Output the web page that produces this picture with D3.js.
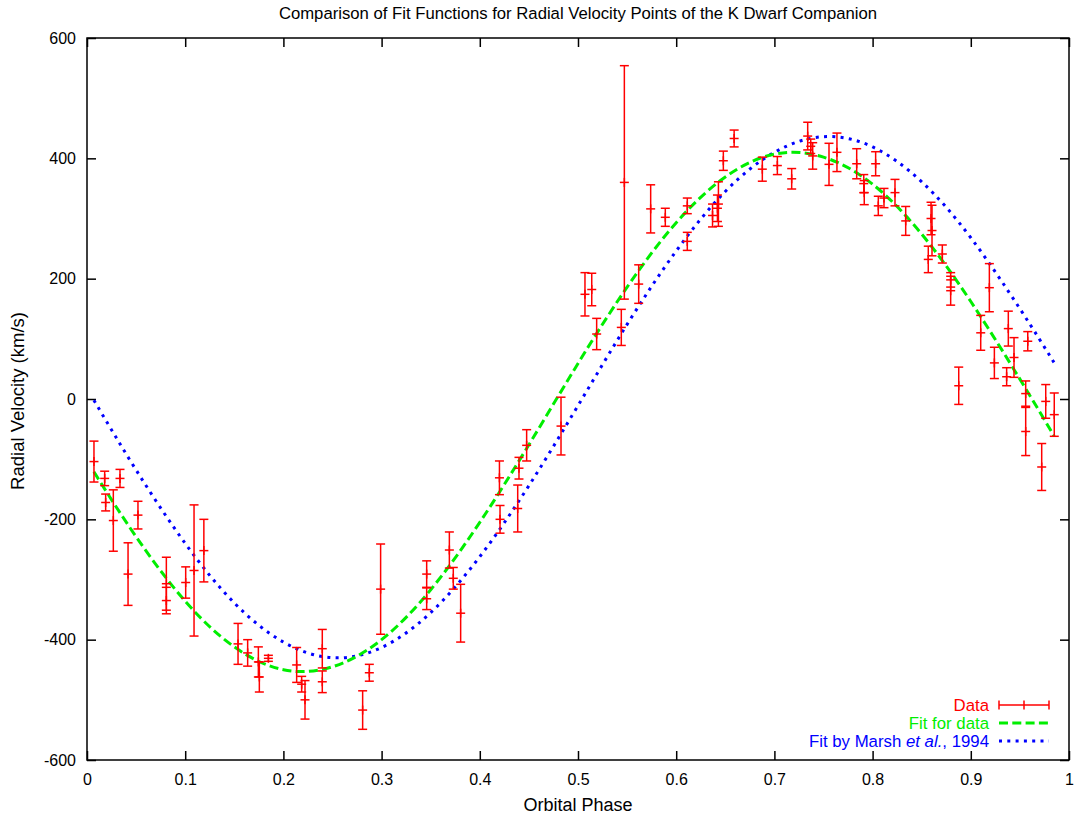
<!DOCTYPE html>
<html>
<head>
<meta charset="utf-8">
<script src="https://cdn.jsdelivr.net/npm/d3@7"></script>
<style>
  html, body { margin: 0; padding: 0; background: #fff; }
  text { font-family: "Liberation Sans", Arial, Helvetica, sans-serif; }
</style>
</head>
<body>
<svg id="chart" width="1080" height="820"></svg>
<script>
// ---------------- data ----------------
const phase = [0.0071,0.018,0.019,0.0268,0.0336,0.0418,0.0519,0.0808,0.0808,0.1005,0.109,0.119,
  0.1538,0.1636,0.1745,0.1755,0.1847,0.2135,0.2186,0.222,0.2396,0.2396,0.2807,0.2875,0.299,
  0.3459,0.3459,0.369,0.373,0.3805,0.42,0.4206,0.4399,0.4386,0.4477,0.4827,
  0.5071,0.514,0.519,0.5441,0.5472,0.5618,0.574,0.5889,0.6113,0.6113,0.637,0.642,0.643,0.648,0.659,
  0.6877,0.703,0.7176,0.7339,0.737,0.739,0.7556,0.7637,0.7838,0.791,0.7915,0.8031,0.8058,0.8116,
  0.8228,0.8337,0.8567,0.8595,0.8605,0.871,0.8795,0.8795,0.8877,0.9101,0.9189,0.924,0.9365,0.9382,
  0.944,0.958,0.9559,0.9559,0.9722,0.9763,0.985];
const velocity = [-104,-132,-172,-202,-132,-291,-193,-307,-335,-305,-285,-252,
  -407,-422,-437,-462,-431,-442,-474,-500,-415,-470,-517,-455,-316,
  -291,-332,-251,-298,-356,-131,-200,-115,-182,-77,-45,
  174,182,108,119,360,191,316,302,262,321,305,317,324,396,433,
  382,388,366,437,420,404,390,410,391,358,343,391,321,334,
  343,296,232,300,280,241,198,180,22,110,185,60,37,117,
  69,96,9,-54,-113,-4,-26];
const velErr = [34,12,14,51,15,52,23,44,22,26,109,52,
  34,22,25,25,5,29,13,32,32,18,32,14,75,
  22,18,30,18,48,28,23,18,39,26,48,
  36,27,26,30,194,32,40,15,15,13,19,22,37,16,14,
  20,15,17,23,12,22,35,32,25,15,20,20,16,16,
  22,24,22,27,42,15,12,24,31,29,40,26,15,29,
  33,16,21,40,39,28,36];

// fit curves
const fitPhase = [0.007,0.05,0.1,0.15,0.2,0.25,0.3,0.35,0.4,0.45,0.5,0.55,0.6,0.65,0.7,0.75,0.8,0.85,0.9,0.95,0.985];
const fitData  = [-121,-229,-336,-412,-450,-445,-400,-317,-205,-76,59,186,293,369,407,402,357,274,162,33,-62];
const marshPhase = [0.007,0.05,0.1,0.15,0.2,0.25,0.3,0.35,0.4,0.45,0.5,0.55,0.6,0.65,0.7,0.75,0.8,0.85,0.9,0.95,0.985];
const fitMarsh = [-2,-118,-240,-339,-404,-430,-413,-355,-262,-144,-11,124,246,345,410,436,419,361,268,150,60];

const xTicks = [0,0.1,0.2,0.3,0.4,0.5,0.6,0.7,0.8,0.9,1];
const xTickLabels = ["0","0.1","0.2","0.3","0.4","0.5","0.6","0.7","0.8","0.9","1"];
const yTicks = [-600,-400,-200,0,200,400,600];
const yTickLabels = ["-600","-400","-200","0","200","400","600"];

const titleText = "Comparison of Fit Functions for Radial Velocity Points of the K Dwarf Companion";
const xLabel = "Orbital Phase";
const yLabel = "Radial Velocity (km/s)";

// ---------------- layout ----------------
const svg = d3.select("#chart");
const L = 87, T = 38, R = 1069, B = 760;
const x = d3.scaleLinear().domain([0,1]).range([L,R]);
const y = d3.scaleLinear().domain([-600,600]).range([B,T]);
const RED = "#ff0000", GREEN = "#00ee00", BLUE = "#0000ff";
const TICK = 9;

svg.append("rect").attr("width",1080).attr("height",820).attr("fill","#fff");

// title
svg.append("text").attr("x",578).attr("y",19).attr("text-anchor","middle")
  .attr("font-size",16.7).attr("fill","#000").text(titleText);

// axes with inward ticks (mirrored)
const gx = svg.append("g").attr("transform",`translate(0,${B})`)
  .call(d3.axisBottom(x).tickValues(xTicks).tickFormat((d,i)=>xTickLabels[i]).tickSizeInner(-TICK).tickSizeOuter(0).tickPadding(14));
const gxt = svg.append("g").attr("transform",`translate(0,${T})`)
  .call(d3.axisTop(x).tickValues(xTicks).tickFormat("").tickSizeInner(-TICK).tickSizeOuter(0));
const gy = svg.append("g").attr("transform",`translate(${L},0)`)
  .call(d3.axisLeft(y).tickValues(yTicks).tickFormat((d,i)=>yTickLabels[i]).tickSizeInner(-TICK).tickSizeOuter(0).tickPadding(11));
const gyr = svg.append("g").attr("transform",`translate(${R},0)`)
  .call(d3.axisRight(y).tickValues(yTicks).tickFormat("").tickSizeInner(-TICK).tickSizeOuter(0));
[gx,gxt,gy,gyr].forEach(g=>{
  g.select(".domain").remove();
  g.selectAll(".tick line").attr("stroke","#000").attr("stroke-width",1.5);
  g.selectAll(".tick text").attr("font-size",16).attr("fill","#000")
    .attr("font-family","'Liberation Sans', Arial, sans-serif");
});
gx.selectAll(".tick text").attr("dy","0.71em");

// frame
svg.append("rect").attr("x",L).attr("y",T).attr("width",R-L).attr("height",B-T)
  .attr("fill","none").attr("stroke","#000").attr("stroke-width",1.5);

// axis labels
svg.append("text").attr("x",578).attr("y",811).attr("text-anchor","middle")
  .attr("font-size",18).attr("fill","#000").text(xLabel);
svg.append("text").attr("transform","translate(24,401) rotate(-90)").attr("text-anchor","middle")
  .attr("font-size",18.5).attr("fill","#000").text(yLabel);

// fit curves
svg.append("clipPath").attr("id","plotclip").append("rect")
  .attr("x",L).attr("y",T).attr("width",R-L).attr("height",B-T);
const line = d3.line().curve(d3.curveNatural);
svg.append("path")
  .attr("d", line(marshPhase.map((p,i)=>[x(p), y(fitMarsh[i])])))
  .attr("fill","none").attr("stroke",BLUE).attr("stroke-width",3)
  .attr("stroke-dasharray","3,5.3").attr("clip-path","url(#plotclip)");
svg.append("path")
  .attr("d", line(fitPhase.map((p,i)=>[x(p), y(fitData[i])])))
  .attr("fill","none").attr("stroke",GREEN).attr("stroke-width",3)
  .attr("stroke-dasharray","9,4.3").attr("clip-path","url(#plotclip)");

// data with error bars
const CAP = 4.5;
const pts = phase.map((p,i)=>({p, v: velocity[i], e: velErr[i]}));
const gd = svg.append("g").attr("stroke",RED).attr("stroke-width",1.5).attr("fill","none");
const eb = gd.selectAll("g").data(pts).join("g");
eb.append("line").attr("x1",d=>x(d.p)).attr("x2",d=>x(d.p))
  .attr("y1",d=>y(d.v+d.e)).attr("y2",d=>y(d.v-d.e));
eb.append("line").attr("x1",d=>x(d.p)-CAP).attr("x2",d=>x(d.p)+CAP)
  .attr("y1",d=>y(d.v+d.e)).attr("y2",d=>y(d.v+d.e));
eb.append("line").attr("x1",d=>x(d.p)-CAP).attr("x2",d=>x(d.p)+CAP)
  .attr("y1",d=>y(d.v-d.e)).attr("y2",d=>y(d.v-d.e));
// "+" point marker
eb.append("line").attr("x1",d=>x(d.p)-CAP).attr("x2",d=>x(d.p)+CAP)
  .attr("y1",d=>y(d.v)).attr("y2",d=>y(d.v));
eb.append("line").attr("x1",d=>x(d.p)).attr("x2",d=>x(d.p))
  .attr("y1",d=>y(d.v)-CAP).attr("y2",d=>y(d.v)+CAP);

// legend
const legX0 = 999, legX1 = 1049, legText = 989;
const rows = [705, 723, 741];
const lg = svg.append("g");
lg.append("text").attr("x",legText).attr("y",rows[0]).attr("dy","0.35em").attr("text-anchor","end")
  .attr("font-size",16.8).attr("fill",RED).text("Data");
lg.append("text").attr("x",legText).attr("y",rows[1]).attr("dy","0.35em").attr("text-anchor","end")
  .attr("font-size",16.8).attr("fill","#00ee00").text("Fit for data");
const t3 = lg.append("text").attr("x",legText).attr("y",rows[2]).attr("dy","0.35em").attr("text-anchor","end")
  .attr("font-size",16.8).attr("fill",BLUE);
t3.append("tspan").text("Fit by Marsh ");
t3.append("tspan").attr("font-style","italic").text("et al.");
t3.append("tspan").text(", 1994");

const ls = lg.append("g").attr("stroke",RED).attr("stroke-width",1.5);
ls.append("line").attr("x1",legX0).attr("x2",legX1).attr("y1",rows[0]).attr("y2",rows[0]);
[legX0,(legX0+legX1)/2,legX1].forEach(xx=>{
  ls.append("line").attr("x1",xx).attr("x2",xx).attr("y1",rows[0]-CAP).attr("y2",rows[0]+CAP);
});
lg.append("line").attr("x1",legX0).attr("x2",legX1).attr("y1",rows[1]).attr("y2",rows[1])
  .attr("stroke",GREEN).attr("stroke-width",3).attr("stroke-dasharray","9,4.3");
lg.append("line").attr("x1",legX0).attr("x2",legX1).attr("y1",rows[2]).attr("y2",rows[2])
  .attr("stroke",BLUE).attr("stroke-width",3).attr("stroke-dasharray","3,5.3");
</script>
</body>
</html>
